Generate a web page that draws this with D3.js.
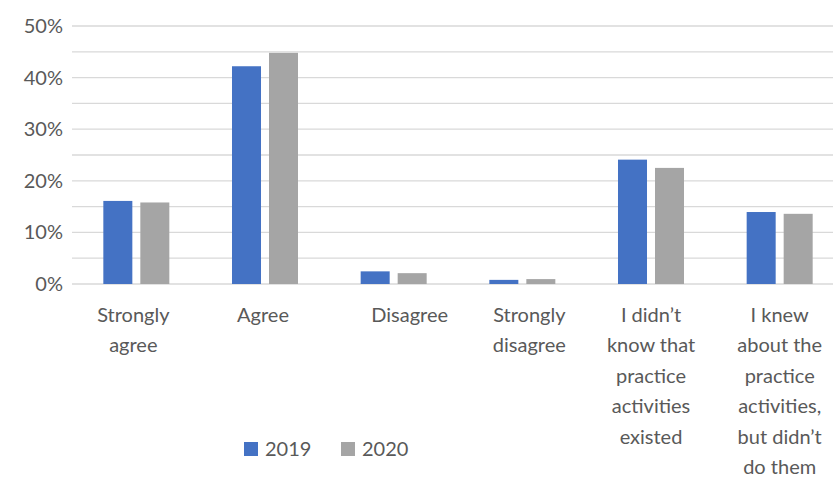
<!DOCTYPE html>
<html>
<head>
<meta charset="utf-8">
<script src="https://cdn.jsdelivr.net/npm/d3@7"></script>
<style>
  body { margin: 0; background: #fff; }
  svg { display: block; font-family: Lato, "Open Sans", sans-serif; }
</style>
</head>
<body>
<svg id="chart" width="833" height="480"></svg>
<script>
'use strict';

// categories, wrapped as in the original labels
var categories = [
	['Strongly', 'agree'],
	['Agree'],
	['Disagree'],
	['Strongly', 'disagree'],
	['I didn\u2019t', 'know that', 'practice', 'activities', 'existed'],
	['I knew', 'about the', 'practice', 'activities,', 'but didn\u2019t', 'do them']
];
var seriesNames = ['2019', '2020'];
var values2019 = [16.1, 42.2, 2.45, 0.8, 24.1, 13.95];
var values2020 = [15.8, 44.8, 2.1, 0.95, 22.5, 13.6];
var yTicks = [0, 10, 20, 30, 40, 50];
var gridTicks = [0, 5, 10, 15, 20, 25, 30, 35, 40, 45, 50];

var colors = { '2019': '#4472C4', '2020': '#A5A5A5' };
var textColor = '#595959';
var labelNudge = [-3, -2, 16, 7, 0, 0]; // excel puts some labels a bit off centre

var svg = d3.select('#chart');

var x = d3.scaleBand()
	.domain(d3.range(categories.length))
	.range([72, 844])
	.paddingInner(0.487)
	.paddingOuter(0.2435);

var xSub = d3.scaleBand()
	.domain(seriesNames)
	.range([0, x.bandwidth()])
	.paddingInner(0.216);

var y = d3.scaleLinear()
	.domain([0, 50])
	.range([284, 26]);

// - gridlines
svg.append('g')
	.selectAll('line')
	.data(gridTicks)
	.join('line')
		.attr('x1', 72)
		.attr('x2', 833)
		.attr('y1', d => y(d))
		.attr('y2', d => y(d))
		.attr('stroke', '#D9D9D9')
		.attr('stroke-width', 1.3);

// - y axis labels
var yAxis = svg.append('g')
	.attr('transform', 'translate(72,0)')
	.call(d3.axisLeft(y).tickValues(yTicks).tickSize(0).tickPadding(9).tickFormat(d => d + '%'));
yAxis.select('.domain').remove();
yAxis.selectAll('text')
	.attr('fill', textColor)
	.style('font-family', 'Lato, "Open Sans", sans-serif')
	.style('font-size', '20px');

// - bars
var rows = categories.map((c, i) => ({ i: i, '2019': values2019[i], '2020': values2020[i] }));

var groups = svg.append('g')
	.selectAll('g')
	.data(rows)
	.join('g')
		.attr('transform', d => `translate(${x(d.i)},0)`);

groups.selectAll('rect')
	.data(d => seriesNames.map(s => ({ key: s, value: d[s] })))
	.join('rect')
		.attr('x', d => xSub(d.key))
		.attr('width', xSub.bandwidth())
		.attr('y', d => y(d.value))
		.attr('height', d => y(0) - y(d.value))
		.attr('fill', d => colors[d.key]);

// - category labels
var labels = svg.append('g')
	.selectAll('text')
	.data(categories)
	.join('text')
		.attr('text-anchor', 'middle')
		.attr('fill', textColor)
		.style('font-size', '20px')
		.attr('transform', (d, i) => `translate(${x(i) + x.bandwidth() / 2 + labelNudge[i]},322)`);

labels.selectAll('tspan')
	.data(d => d)
	.join('tspan')
		.attr('x', 0)
		.attr('y', (d, j) => j * 30.4)
		.text(d => d);

// - legend
var legend = svg.append('g')
	.selectAll('g')
	.data(seriesNames)
	.join('g')
		.attr('transform', (d, i) => `translate(${244 + i * 97},442)`);

legend.append('rect')
	.attr('width', 14)
	.attr('height', 14)
	.attr('fill', d => colors[d]);

legend.append('text')
	.attr('x', 21)
	.attr('y', 14)
	.attr('fill', textColor)
	.style('font-size', '20px')
	.text(d => d);
</script>
</body>
</html>
